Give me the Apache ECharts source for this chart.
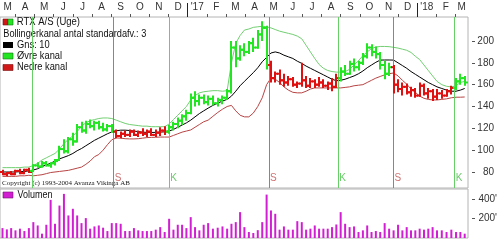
<!DOCTYPE html>
<html><head><meta charset="utf-8">
<script src="https://cdn.jsdelivr.net/npm/echarts@6/dist/echarts.min.js"></script>
<style>html,body{margin:0;padding:0;background:#fff}#c{width:500px;height:241px}</style>
</head><body><div id="c"></div>
<script>
const FONT = "'Liberation Sans',Arial,sans-serif";

// weekly categories (Fridays)
const firstWeek = '2016-03-11';
const weekCount = 106;
const weeks = [];
for (let i = 0; i < weekCount; i++) {
  const d = new Date(Date.UTC(2016, 2, 11 + 7 * i));
  weeks.push(d.toISOString().slice(0, 10));
}

const opens = [80,78,79,78,81,79,82,
  81,86,85,88,86,88,91,101,99,110,108,121,118,124,122,125,121,119,122,
  117,113,115,114,117,114,116,115,117,114,116,118,
  117,121,124,127,131,134,148,145,148,144,147,143,146,148,154,194,184,192,190,198,194,206,212,
  178,166,170,164,162,165,160,161,164,159,163,160,162,159,161,158,
  166,172,170,179,176,180,186,194,190,188,178,170,
  176,160,156,158,153,155,150,159,152,154,149,152,150,154,
  157,163,166];
const highs = [82,80,81,82,83,83,84,
  87,89,90,90,89,92,104,110,112,116,124,126,127,128,127,127,125,124,124,
  119,117,118,119,119,118,120,119,120,119,121,122,
  123,126,130,133,137,152,154,151,151,150,150,148,150,156,200,200,196,198,200,203,210,218,214,
  182,172,174,170,168,167,163,180,168,166,165,167,165,163,166,170,
  176,178,182,184,182,189,198,197,195,190,182,180,
  178,165,162,161,158,157,162,161,157,156,156,155,156,159,
  166,170,168];
const lows = [77,76,77,77,78,78,79,
  80,84,84,85,84,86,90,97,97,104,107,116,115,120,118,119,117,117,116,
  111,111,112,112,113,112,113,112,113,112,113,114,
  115,118,120,123,127,133,140,141,142,141,141,140,142,146,152,176,182,186,188,190,193,200,174,
  162,162,160,158,159,158,157,158,157,157,157,158,157,155,154,157,
  163,168,169,172,173,178,184,186,184,174,165,168,
  152,153,150,151,149,148,149,150,147,145,146,147,149,151,
  155,160,159];
const closes = [78,79,78,81,79,82,80,
  86,85,88,86,88,90,101,99,110,108,121,118,124,122,125,121,119,122,117,
  113,115,114,117,114,116,115,117,114,116,118,117,
  121,124,127,131,134,148,145,148,144,147,143,146,148,154,194,184,192,190,198,194,206,212,178,
  166,170,164,162,165,160,161,164,159,163,160,162,159,161,158,166,
  172,170,179,176,180,186,194,190,188,178,170,176,
  160,156,158,153,155,150,159,152,154,149,152,150,154,157,
  163,166,162];

const upperBand = [84,84,84,84,84,84.5,84.5,
  86,88,91,93,95,97,101,106,110,113,117,122,125,127,128,129,129.5,129.5,129,
  127.5,126,124.5,123.5,123,122.5,122,122,121.5,121.5,121.5,121.5,
  124,128,132,136,140,146,150,152.5,153.5,154,154.5,154.5,154,154.5,180,198,205,210,211,212.5,213,213.5,213,
  212,210.5,209,208,207,206,204.5,202,196,190,184,178.5,175,173,172,171.5,
  171.5,172,174,178,182,186.5,190,193,194.5,195,195,194.8,
  194.2,193.5,192.5,191.5,189.5,186,183,178,173,168,163,160,158.5,158,
  159,162,163];
const middleBand = [80,80,80,80,80.3,80.5,81,
  81.8,83,85,86.5,88,90,92,93.5,95,97,99.5,101.5,104,106.5,109,111,113,115,116.7,
  117.8,118.3,118.3,118,117.5,117,116.5,116.3,116.2,116.3,116.5,116.8,
  117.5,119,121,123,125,127.5,130.5,133.5,136,138.5,141,143,145,146.5,149.5,154,159,163,167,171,175.5,181,185,
  189,190,189,187,185.5,184,181.5,179.5,177,175,173,171,169,167,165,163.6,
  164,165,166.5,168,170,172.5,175.5,178,180.5,182.5,182.6,182.6,
  182.5,180,177.5,175,172,169.5,167,164.5,162,160,158,156.5,155,154,
  154,155,156.5];
const lowerBand = [76,76,76,76,76.5,76.5,77,
  76.5,77,77.5,78.5,79.5,80,80.5,81,81.5,82.5,83.5,84.5,87,90,94,96,100,105,109.5,
  111.2,111,110.5,110.3,110.3,110.5,111,111.5,111.7,111.8,112,112,
  112,113.5,115,116.5,117.5,118.5,121,123.5,126,127.5,131,134.5,137.5,140,141,136,132,130.5,130.5,134,140,148,160,
  166,165,162,158,155,153,152.5,152.5,154,156,157,157,157,157,157,157,
  157,157.5,158,159,159.5,160,162,164,166,167.5,169,170,
  170.7,168,164,160.5,156,153,149.5,147.5,146.5,146,146,146.5,147,148,
  148.5,148.5,148.7];

const volumes = [101,88,101,78,95,71,101,162,128,44,
  135,389,145,331,450,230,298,230,152,203,
  95,118,128,105,71,152,152,145,71,71,
  101,78,71,71,71,85,111,61,196,85,
  135,135,101,213,111,78,135,152,95,105,
  118,95,145,162,264,111,61,51,80,162,443,
  281,247,85,118,85,85,172,162,85,95,128,95,95,95,111,138,264,145,111,118,
  61,78,128,61,71,61,152,95,78,135,78,111,78,78,95,85,95,111,78,78,61,85,61,61,44];

const signalDates = ['2016-04-27','2016-09-05','2016-12-02','2017-05-09','2017-08-28','2017-11-24','2018-02-28'];
const signalTypes = ['K','S','K','S','K','S','K'];

const priceTicks = [80,100,120,140,160,180,200];
const volumeTicks = [200,400];
const monthLetters = ['J','F','M','A','M','J','J','A','S','O','N','D'];

// ---------- helpers ----------
function monthPos(s) {
  const [y, m, d] = s.split('-').map(Number);
  const dim = new Date(Date.UTC(y, m, 0)).getUTCDate();
  return (y - 2016) * 12 + (m - 1) + (d - 1) / dim;
}
const X_MIN = 2.1909, X_MAX = 26.6563;
const xs = weeks.map(monthPos);

function trendUp(d) {
  let state = signalTypes[0] === 'K' ? 0 : 1;
  for (let k = 0; k < signalDates.length; k++) {
    if (d >= signalDates[k]) state = signalTypes[k] === 'K' ? 1 : 0;
  }
  return state;
}

const monthTicks = [];
const monthCenters = [];
for (let m = Math.floor(X_MIN); m <= Math.floor(X_MAX); m++) {
  if (m > X_MIN) monthTicks.push(m);
  const s = Math.max(m, X_MIN), e = Math.min(m + 1, X_MAX);
  if (e - s > 0.3) monthCenters.push((s + e) / 2);
}
const yearTicks = [12, 24];
function monthLabel(v) {
  const m = Math.floor(v);
  if (m % 12 === 0) return "'" + String(16 + m / 12);
  return monthLetters[m % 12];
}

const GREEN_BAR = '#22e622', RED_BAR = '#e01010';
const ohlcData = weeks.map((d, i) => [xs[i], opens[i], highs[i], lows[i], closes[i], trendUp(d)]);
const sigLineColor = t => t === 'K' ? '#66d066' : '#cc6a6a';
const sigTextColor = t => t === 'K' ? '#44bb44' : '#c05050';

function legendText(x, y, text, sx) {
  return {type: 'text', x: x, y: y, scaleX: sx, originX: x, originY: y,
    style: {text: text, font: '10px ' + FONT, fill: '#111', verticalAlign: 'middle'}};
}

const chart = echarts.init(document.getElementById('c'), null, {renderer: 'canvas'});
const option = {
  animation: false,
  backgroundColor: '#fff',
  grid: [
    {left: -1, top: 17, width: 469, height: 171, show: true, borderColor: '#b4b4b4', borderWidth: 1, backgroundColor: '#fff'},
    {left: -1, top: 189, width: 469, height: 49, show: true, borderColor: '#b4b4b4', borderWidth: 1, backgroundColor: '#fff'}
  ],
  xAxis: [
    {type: 'value', gridIndex: 0, position: 'top', min: X_MIN, max: X_MAX,
      splitLine: {show: false}, axisLine: {show: false},
      axisTick: {show: true, customValues: monthTicks, length: 3, lineStyle: {color: '#555'}},
      axisLabel: {show: true, customValues: monthCenters, formatter: monthLabel, margin: 5,
        fontSize: 10, fontFamily: FONT, color: '#333'}},
    {type: 'value', gridIndex: 0, position: 'top', min: X_MIN, max: X_MAX,
      splitLine: {show: false}, axisLine: {show: false}, axisLabel: {show: false},
      axisTick: {show: true, customValues: yearTicks, length: 14, lineStyle: {color: '#222', width: 1}}},
    {type: 'value', gridIndex: 1, min: X_MIN, max: X_MAX, show: false}
  ],
  yAxis: [
    {type: 'value', gridIndex: 0, position: 'right', min: 65.34, max: 221.98, offset: 4,
      splitLine: {show: false}, axisLine: {show: false},
      axisTick: {show: true, customValues: priceTicks, length: 3, lineStyle: {color: '#555'}},
      axisLabel: {customValues: priceTicks, align: 'right', margin: 22, fontSize: 10, fontFamily: FONT, color: '#333'}},
    {type: 'value', gridIndex: 1, position: 'right', min: 0, max: 500, offset: 4,
      splitLine: {show: false}, axisLine: {show: false},
      axisTick: {show: true, customValues: volumeTicks, length: 3, lineStyle: {color: '#555'}},
      axisLabel: {customValues: volumeTicks, formatter: v => v + "'", align: 'right', margin: 25,
        fontSize: 10, fontFamily: FONT, color: '#333'}}
  ],
  series: [
    {type: 'line', name: 'Øvre kanal', xAxisIndex: 0, yAxisIndex: 0, symbol: 'none', z: 2,
      lineStyle: {color: '#72cf72', width: 1}, data: upperBand.map((v, i) => [xs[i], v])},
    {type: 'line', name: 'Nedre kanal', xAxisIndex: 0, yAxisIndex: 0, symbol: 'none', z: 2,
      lineStyle: {color: '#b84444', width: 1}, data: lowerBand.map((v, i) => [xs[i], v])},
    {type: 'line', name: 'Gns: 10', xAxisIndex: 0, yAxisIndex: 0, symbol: 'none', z: 3,
      lineStyle: {color: '#000', width: 1}, data: middleBand.map((v, i) => [xs[i], v]),
      markLine: {silent: true, symbol: ['none', 'none'], label: {show: false}, animation: false,
        data: signalDates.map((d, k) => ({xAxis: monthPos(d), lineStyle: {color: sigLineColor(signalTypes[k]), width: 1, type: 'solid'}}))}},
    {type: 'custom', name: 'RTX A/S (Uge)', xAxisIndex: 0, yAxisIndex: 0, z: 5,
      encode: {x: 0, y: [1, 2, 3, 4]},
      data: ohlcData,
      renderItem: function (params, api) {
        const x = api.value(0);
        const pH = api.coord([x, api.value(2)]);
        const pL = api.coord([x, api.value(3)]);
        const pO = api.coord([x, api.value(1)]);
        const pC = api.coord([x, api.value(4)]);
        const col = api.value(5) ? GREEN_BAR : RED_BAR;
        const cx = Math.round(pH[0]);
        return {type: 'group', children: [
          {type: 'line', shape: {x1: cx, y1: pH[1], x2: cx, y2: pL[1]}, style: {stroke: col, lineWidth: 2}},
          {type: 'line', shape: {x1: cx - 3, y1: pO[1], x2: cx, y2: pO[1]}, style: {stroke: col, lineWidth: 2}},
          {type: 'line', shape: {x1: cx, y1: pC[1], x2: cx + 3, y2: pC[1]}, style: {stroke: col, lineWidth: 2}}
        ]};
      }},
    {type: 'scatter', xAxisIndex: 0, yAxisIndex: 0, symbolSize: 0, z: 6, silent: true,
      data: signalDates.map((d, k) => ({value: [monthPos(d), 74.5], type: signalTypes[k],
        label: {color: sigTextColor(signalTypes[k])}})).slice(1),
      label: {show: true, position: 'right', distance: 1, fontSize: 10, fontFamily: FONT,
        formatter: p => p.data.type}},
    {type: 'bar', name: 'Volumen', xAxisIndex: 2, yAxisIndex: 1, barWidth: 2, z: 3,
      itemStyle: {color: '#d21ed2'}, data: volumes.map((v, i) => [xs[i], v])}
  ],
  graphic: [
    {type: 'rect', shape: {x: 3, y: 19, width: 5, height: 6}, style: {fill: '#d01818', stroke: '#7a1010', lineWidth: 0.6}},
    {type: 'rect', shape: {x: 8, y: 19, width: 5, height: 6}, style: {fill: '#22e622', stroke: '#157015', lineWidth: 0.6}},
    legendText(16, 22, 'RTX A/S (Uge)', 0.95),
    legendText(3, 34, 'Bollingerkanal antal standardafv.: 3', 0.92),
    {type: 'rect', shape: {x: 3, y: 42, width: 10, height: 6}, style: {fill: '#000'}},
    legendText(16, 45, 'Gns: 10', 0.93),
    {type: 'rect', shape: {x: 3, y: 53, width: 10, height: 6}, style: {fill: '#22e622', stroke: '#157015', lineWidth: 0.6}},
    legendText(16, 56, 'Øvre kanal', 0.93),
    {type: 'rect', shape: {x: 3, y: 64.5, width: 10, height: 6}, style: {fill: '#d01818', stroke: '#7a1010', lineWidth: 0.6}},
    legendText(16, 67.5, 'Nedre kanal', 0.93),
    {type: 'text', x: 2, y: 183, style: {text: 'Copyright (c) 1993-2004 Avanza Vikinga AB', font: '7px "Liberation Serif", serif', fill: '#222', verticalAlign: 'middle'}},
    {type: 'rect', shape: {x: 3, y: 192, width: 10, height: 6}, style: {fill: '#d21ed2', stroke: '#701070', lineWidth: 0.6}},
    legendText(16, 195, 'Volumen', 0.9)
  ]
};
chart.setOption(option);
</script></body></html>
